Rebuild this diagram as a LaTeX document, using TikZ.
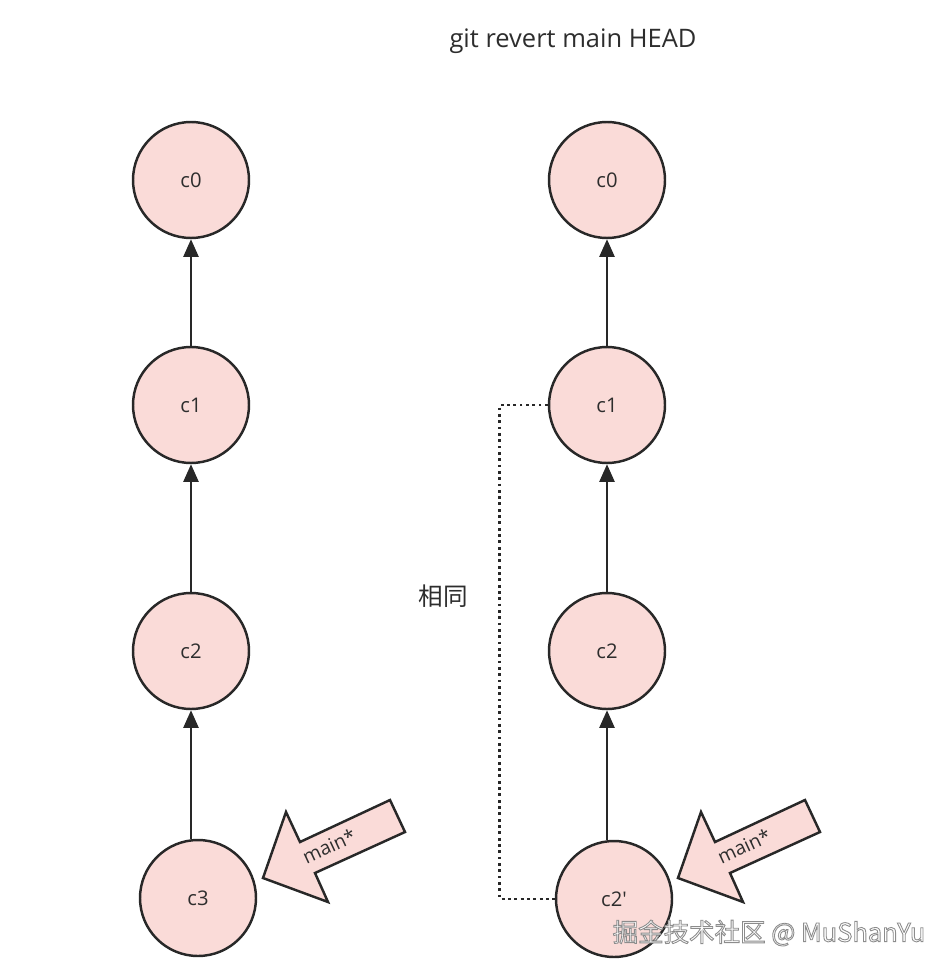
\documentclass[tikz,border=0pt]{standalone}
\usepackage{fontspec}
\setmainfont{Open Sans}
\newfontfamily\cjk{Noto Sans CJK SC}
\usetikzlibrary{arrows.meta}

\definecolor{commitfill}{RGB}{250,219,216}
\definecolor{linegray}{RGB}{40,40,40}
\definecolor{textgray}{RGB}{45,45,45}

\tikzset{
    commit/.style={circle, draw=linegray, line width=1.4pt, fill=commitfill,
        minimum size=2.32cm, inner sep=0pt, text=textgray,
        font=\fontsize{11.5}{13}\selectfont},
    parent/.style={-{Triangle[length=10pt,width=8.5pt]}, line width=1.4pt, draw=linegray},
    pointer/.style={draw=linegray, line width=1.4pt, fill=commitfill, line join=miter},
    label/.style={text=textgray, font=\fontsize{14.5}{17}\selectfont},
}

\begin{document}
\begin{tikzpicture}[x=0.02cm, y=-0.02cm]
    \useasboundingbox (0,0) rectangle (952,973);

    \node[label] (title) at (573,41) {git revert main HEAD};

    \node[commit] (L0) at (191,180) {c0};
    \node[commit] (L1) at (191,405) {c1};
    \node[commit] (L2) at (191,651) {c2};
    \node[commit] (L3) at (198,898) {c3};

    \node[commit] (R0) at (607,180) {c0};
    \node[commit] (R1) at (607,405) {c1};
    \node[commit] (R2) at (607,651) {c2};
    \node[commit] (R2p) at (614,899) {c2\textquotesingle};

    \draw[parent] (L1) -- (L0);
    \draw[parent] (L2) -- (L1);
    \draw[parent] (L3.north -| L2) -- (L2);

    \draw[parent] (R1) -- (R0);
    \draw[parent] (R2) -- (R1);
    \draw[parent] (R2p.north -| R2) -- (R2);

    \draw[dotted, line width=1.6pt, linegray]
        (R1.west) -- ++(-48,0) |- (R2p.west);

    \node[label, font=\cjk\fontsize{14}{16}\selectfont] (same) at (443,596) {相同};

    \foreach \dx/\nm in {0/mainL, 415/mainR} {
        \draw[pointer, shift={(\dx,0)}]
            (263,878) -- (286,812) -- (300,842) -- (390,800)
            -- (405,832) -- (315,873) -- (328,902) -- cycle;
        \node[text=textgray, rotate=25, font=\fontsize{11}{13}\selectfont]
            (\nm) at (\dx+329,846) {main*};
    }

    \node[text=white, font=\cjk\fontsize{14.5}{17}\selectfont] (watermark) at (769,933)
        {\special{pdf:literal direct 0.55 G 0.5 w 2 Tr}掘金技术社区 @ MuShanYu\special{pdf:literal direct 0 Tr}};

\end{tikzpicture}
\end{document}
